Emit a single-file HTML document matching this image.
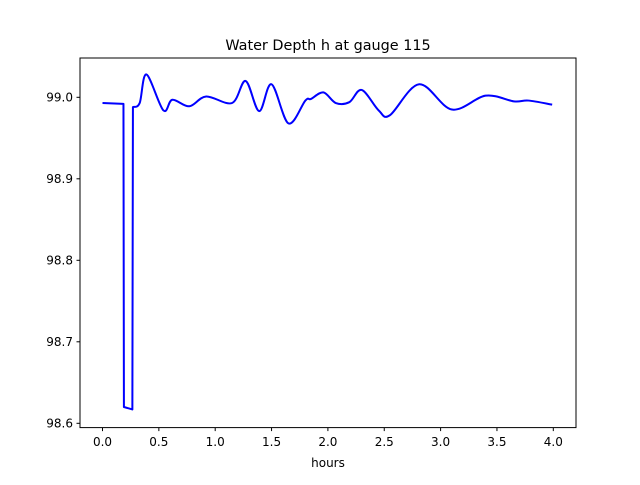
<!DOCTYPE html>
<html><head><meta charset="utf-8"><style>body{margin:0;background:#fff}svg text{font-family:"DejaVu Sans","Liberation Sans",sans-serif}</style></head>
<body>
<svg id="c" width="640" height="480" viewBox="0 0 640 480">
<rect width="640" height="480" fill="#fff"/>
<text x="328" y="50" font-size="14.4" text-anchor="middle">Water Depth h at gauge 115</text>
<g id="ticks"></g>
<path id="line" fill="none" stroke="#0000ff" stroke-width="2" stroke-linejoin="round"/>
<rect x="80" y="58" width="496" height="369.6" fill="none" stroke="#000" stroke-width="1"/>
<text x="328" y="467" font-size="12" text-anchor="middle">hours</text>
</svg>
<script>
const xTicks=[0,0.5,1,1.5,2,2.5,3,3.5,4];
const xTickLabels=["0.0","0.5","1.0","1.5","2.0","2.5","3.0","3.5","4.0"];
const yTicks=[98.6,98.7,98.8,98.9,99.0];
const yTickLabels=["98.6","98.7","98.8","98.9","99.0"];
const hoursPre=[0,0.186];
const depthPre=[98.993,98.992];
const hoursDip=[0.19,0.265];
const depthDip=[98.620,98.617];
const hours=[0.27,0.33,0.39,0.54,0.62,0.77,0.92,1.15,1.27,1.39,1.50,1.65,1.80,1.85,1.96,2.07,2.19,2.30,2.45,2.55,2.81,3.10,3.40,3.65,3.78,3.99];
const depth=[98.988,98.993,99.028,98.984,98.997,98.989,99.001,98.993,99.020,98.983,99.016,98.968,98.996,98.998,99.006,98.993,98.994,99.009,98.984,98.978,99.016,98.985,99.002,98.995,98.996,98.991];
const X=h=>102.5+h*112.7;
const Y=v=>423.3-(v-98.6)*815;
const NS="http://www.w3.org/2000/svg";
const g=document.getElementById('ticks');
function mk(t,a){const e=document.createElementNS(NS,t);for(const k in a)e.setAttribute(k,a[k]);g.appendChild(e);return e;}
xTicks.forEach((t,i)=>{const x=X(t);
 const l=mk('line',{x1:x,x2:x,y1:427.6,y2:431.1,stroke:'#000'});
 
 
 const tx=mk('text',{x:x,y:446,'font-size':12,'text-anchor':'middle'});tx.textContent=xTickLabels[i];
 
 });
yTicks.forEach((t,i)=>{const y=Y(t);
 const l=mk('line',{x1:76.5,x2:80,y1:y,y2:y,stroke:'#000'});
 
 
 const tx=mk('text',{x:73,y:y+4.3,'font-size':12,'text-anchor':'end'});tx.textContent=yTickLabels[i];
 
 });
let d='M'+X(hoursPre[0])+','+Y(depthPre[0])+' L'+X(hoursPre[1])+','+Y(depthPre[1]);
for(let i=0;i<hoursDip.length;i++)d+=' L'+X(hoursDip[i])+','+Y(depthDip[i]);
const P=hours.map((h,i)=>[X(h),Y(depth[i])]);
d+=' L'+P[0][0]+','+P[0][1];
for(let i=0;i<P.length-1;i++){const p0=P[Math.max(0,i-1)],p1=P[i],p2=P[i+1],p3=P[Math.min(P.length-1,i+2)];
 const c1=[p1[0]+(p2[0]-p0[0])/6,p1[1]+(p2[1]-p0[1])/6],c2=[p2[0]-(p3[0]-p1[0])/6,p2[1]-(p3[1]-p1[1])/6];
 d+=' C'+c1[0]+','+c1[1]+' '+c2[0]+','+c2[1]+' '+p2[0]+','+p2[1];}
document.getElementById('line').setAttribute('d',d);
</script>
</body></html>
